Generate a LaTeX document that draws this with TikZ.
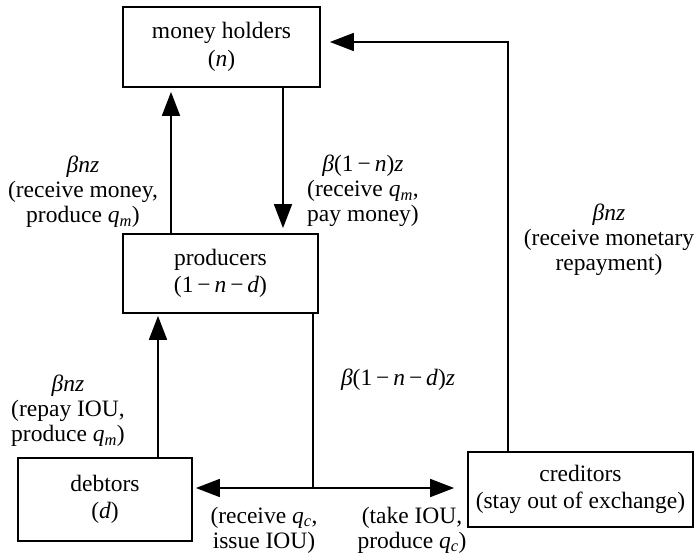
\documentclass[tikz,border=0pt]{standalone}
\usepackage{fontspec}
\setmainfont{Liberation Serif}
\usetikzlibrary{arrows.meta}
\newcommand\mv[1]{\textit{#1}}
\newcommand\fs{\fontsize{23.5}{25}\selectfont}
\newcommand\fb{\fontsize{23.5}{27.5}\selectfont}
\begin{document}
\begin{tikzpicture}[x=1pt,y=-1pt,
  box/.style={draw, line width=1.8pt, align=center, inner sep=0pt, font=\fb},
  lab/.style={align=center, inner sep=0pt, font=\fs},
  arr/.style={line width=1.8pt, -{Triangle[length=24pt,width=18pt]}},
  ln/.style={line width=1.8pt}]
\useasboundingbox (0,0) rectangle (696,556);
% boxes
\node[box, minimum width=197pt, minimum height=80pt] (mh) at (221.5,47) {money holders\\(\mv{n})};
\node[box, minimum width=195pt, minimum height=79pt] (prod) at (220.5,273.5) {producers\\(1\,−\,\mv{n}\,−\,\mv{d})};
\node[box, minimum width=174pt, minimum height=83pt] (debt) at (105,499.5) {debtors\\(\mv{d})};
\node[box, minimum width=225pt, minimum height=75pt] (cred) at (580.5,489.5) {creditors\\(stay out of exchange)};
% labels
\node[lab] (l1) at (83,192) {\mv{β}\mv{nz}\\(receive money,\\produce \mv{q}\textsubscript{\mv{m}})};
\node[lab] (l2) at (363,191) {\mv{β}(1\,−\,\mv{n})\mv{z}\\(receive \mv{q}\textsubscript{\mv{m}},\\pay money)};
\node[lab] (l3) at (609,240) {\mv{β}\mv{nz}\\(receive monetary\\repayment)};
\node[lab] (l4) at (68,411) {\mv{β}\mv{nz}\\(repay IOU,\\produce \mv{q}\textsubscript{\mv{m}})};
\node[lab] (l5) at (398,380) {\mv{β}(1\,−\,\mv{n}\,−\,\mv{d})\mv{z}};
\node[lab] (l6) at (264,530) {(receive \mv{q}\textsubscript{\mv{c}},\\issue IOU)};
\node[lab] (l7) at (412,530) {(take IOU,\\produce \mv{q}\textsubscript{\mv{c}})};
% connectors
\coordinate (x1) at (171,0);
\coordinate (x2) at (283,0);
\coordinate (x3) at (158,0);
\coordinate (j) at (313,488);
\coordinate (c1) at (508,42);
\draw[arr, shorten >=4pt] (prod.north -| x1) -- (mh.south -| x1);
\draw[arr, shorten >=5pt] (mh.south -| x2) -- (prod.north -| x2);
\draw[arr, shorten >=2pt] (debt.north -| x3) -- (prod.south -| x3);
\draw[ln] (prod.south -| j) -- (j);
\draw[arr, shorten >=3pt] (j) -- (j -| debt.east);
\draw[arr, shorten >=13pt] (j) -- (j -| cred.west);
\draw[arr, shorten >=9pt] (cred.north -| c1) -- (c1) -- (c1 -| mh.east);
\end{tikzpicture}
\end{document}
